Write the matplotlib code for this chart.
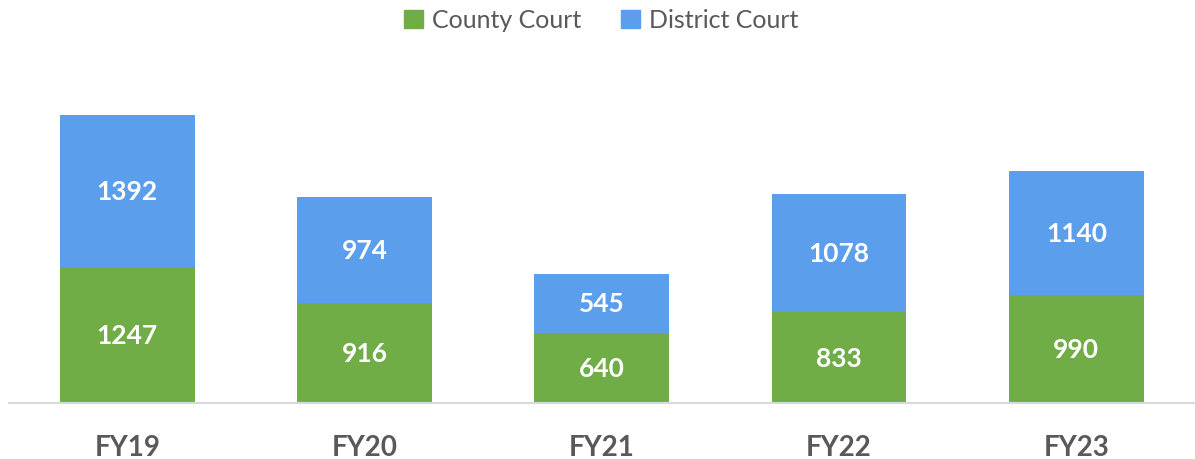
import matplotlib.pyplot as plt
from matplotlib.patches import Patch

plt.rcParams['font.family'] = ['Lato', 'DejaVu Sans']

# Data
years = ['FY19', 'FY20', 'FY21', 'FY22', 'FY23']
county = [1247, 916, 640, 833, 990]
district = [1392, 974, 545, 1078, 1140]

green = '#70AD47'
blue = '#5B9EEC'
grey = '#595959'

fig = plt.figure(figsize=(11.95, 4.6), dpi=100)
ax = fig.add_axes([0.0072, 1 - 404 / 460, 0.9928, 0.70])

x = list(range(len(years)))
width = 0.568
ax.bar(x, county, width, color=green, label='County Court')
ax.bar(x, district, width, bottom=county, color=blue, label='District Court')

# Labels in the middle of each segment
for i in x:
    ax.text(i, county[i] / 2, str(county[i]), ha='center', va='center',
            color='white', fontsize=19, fontweight='bold')
    ax.text(i, county[i] + district[i] / 2, str(district[i]), ha='center', va='center',
            color='white', fontsize=19, fontweight='bold')

ax.set_xlim(-0.5, 4.5)
ax.set_ylim(0, 2950)
ax.set_xticks(x)
ax.set_xticklabels(years, fontsize=20, fontweight='bold', color=grey)
ax.tick_params(axis='x', length=0, pad=22)
ax.set_yticks([])
for side in ['top', 'right', 'left']:
    ax.spines[side].set_visible(False)
ax.spines['bottom'].set_color('#D9D9D9')
ax.spines['bottom'].set_linewidth(1.5)

handles = [Patch(color=green), Patch(color=blue)]
fig.legend(handles, ['County Court', 'District Court'], loc='center',
           bbox_to_anchor=(0.503, 1 - 21 / 460), ncol=2, frameon=False,
           fontsize=18, labelcolor=grey, handlelength=0.75, handleheight=0.75,
           handletextpad=0.35, columnspacing=1.6)

fig.savefig('out.png', dpi=100)
